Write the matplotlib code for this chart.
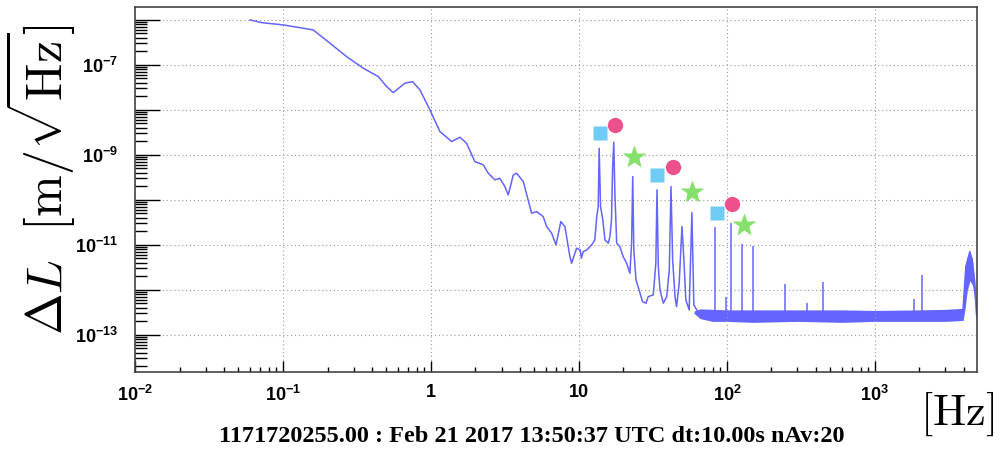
import numpy as np
import matplotlib
matplotlib.use('Agg')
import matplotlib.pyplot as plt
from matplotlib.ticker import FixedLocator, FuncFormatter, LogLocator, NullFormatter

# ---- data ----
# main ASD trace [Hz], [m/sqrt(Hz)]
trace_f = [0.0598, 0.0718, 0.1005, 0.160, 0.208, 0.269, 0.349, 0.441, 0.502, 0.556,
           0.667, 0.751, 0.843, 0.984, 1.15, 1.38, 1.57, 1.74, 1.98, 2.26,
           2.44, 2.71, 2.92, 3.16, 3.33, 3.60, 3.79, 4.21, 4.79, 5.18,
           5.74, 6.05, 6.54, 7.0, 7.55, 8.04, 8.69, 8.93, 9.64, 10.2,
           10.4, 10.7, 11.3, 12.2, 12.8, 13.2, 13.5, 13.7, 14.0, 14.5,
           15.0, 15.8, 16.2, 16.6, 16.9, 17.2, 17.5, 18.0, 18.9, 19.9,
           21.0, 22.1, 22.7, 23.1, 23.5, 24.3, 25.5, 26.9, 28.4, 29.4,
           31.8, 33.1, 33.7, 34.4, 35.3, 37.2, 39.2, 40.8, 41.9, 43.0,
           44.6, 45.7, 47.6, 49.7, 51.2, 52.8, 55.6, 58.0, 59.8, 63.7,
           100, 1000, 3900, 3954, 4121, 4385, 4559, 4742, 4865]
trace_asd = [1.0e-6, 8.7e-7, 7.74e-7, 6.0e-7, 3.03e-7, 1.53e-7, 8.45e-8, 5.5e-8, 3.3e-8, 2.42e-8,
             3.92e-8, 4.25e-8, 2.78e-8, 1.0e-8, 3.3e-9, 1.98e-9, 2.47e-9, 1.82e-9, 7.1e-10, 6.0e-10,
             3.92e-10, 2.78e-10, 3.03e-10, 1.98e-10, 1.29e-10, 3.6e-10, 3.92e-10, 2.55e-10, 5.06e-11, 5.5e-11,
             4.25e-11, 2.55e-11, 1.82e-11, 1.0e-11, 3.3e-11, 2.55e-11, 5.5e-12, 3.92e-12, 8.45e-12, 7.74e-12,
             5.06e-12, 7.1e-12, 7.74e-12, 1.0e-11, 1.29e-11, 4.25e-11, 7.1e-11, 1.41e-9, 7.1e-11, 3.6e-11,
             1.29e-11, 1.09e-11, 1.53e-11, 3.6e-11, 5.5e-10, 1.91e-9, 1.41e-10, 1.09e-11, 9.2e-12, 5.5e-12,
             3.92e-12, 2.35e-12, 1.09e-11, 3.3e-10, 7.74e-12, 1.67e-12, 1.0e-12, 5.5e-13, 5.06e-13, 7.1e-13,
             7.74e-13, 3.92e-12, 1.67e-10, 3.3e-12, 1.0e-12, 5.06e-13, 7.1e-13, 2.78e-12, 1.98e-10, 4.64e-12,
             7.1e-13, 4.25e-13, 1.41e-12, 2.55e-11, 4.64e-12, 6.0e-13, 3.6e-13, 5.2e-11, 4.64e-13, 3.24e-13,
             2.8e-13, 2.8e-13, 2.9e-13, 4.25e-13, 3.3e-12, 7.1e-12, 4.19e-12, 1.0e-12, 2.78e-13]

# noise band of the floor (lower / upper envelope)
band_f = [60, 66, 80, 100, 150, 300, 600, 1000, 2000, 3000,
          3950, 4055, 4217, 4385, 4559, 4742, 4865]
band_lo = [3.0e-13, 2.3e-13, 2.0e-13, 2.0e-13, 1.9e-13, 2.0e-13, 1.9e-13, 2.0e-13, 2.0e-13, 2.0e-13,
           2.1e-13, 3.6e-13, 1.0e-12, 1.6e-12, 1.3e-12, 6.0e-13, 1.9e-13]
band_hi = [3.4e-13, 3.8e-13, 3.7e-13, 3.6e-13, 3.6e-13, 3.6e-13, 3.6e-13, 3.5e-13, 3.6e-13, 3.7e-13,
           3.9e-13, 3.3e-12, 5.5e-12, 7.1e-12, 5.0e-12, 1.6e-12, 4.6e-13]

# narrow lines above the floor
spike_f = [83.0, 98.4, 106.4, 126, 149, 248, 346, 448, 1845, 2070]
spike_top = [2.55e-11, 7.1e-13, 3.13e-11, 1.05e-11, 9.5e-12, 1.34e-12, 5.06e-13, 1.53e-12, 6.2e-13, 2.15e-12]
floor_level = 2.8e-13

# harmonic markers
square_f = [13.86, 33.9, 85.1]
square_asd = [3.13e-9, 3.65e-10, 5.2e-11]
circle_f = [17.6, 43.3, 108]
circle_asd = [4.57e-9, 5.5e-10, 8.3e-11]
star_f = [23.5, 58.5, 129.5]
star_asd = [8.9e-10, 1.53e-10, 2.74e-11]

xtick_vals = [1e-2, 1e-1, 1, 10, 1e2, 1e3]
xtick_labels = [r'$10^{-2}$', r'$10^{-1}$', '1', '10', r'$10^{2}$', r'$10^{3}$']
ytick_labelled = [-7, -9, -11, -13]

footer = '1171720255.00 : Feb 21 2017 13:50:37 UTC dt:10.00s nAv:20'

# ---- style ----
plt.rcParams['font.family'] = ['Liberation Sans', 'DejaVu Sans']
plt.rcParams['font.weight'] = 'bold'
plt.rcParams['mathtext.fontset'] = 'custom'
plt.rcParams['mathtext.rm'] = 'Liberation Sans:bold'
plt.rcParams['mathtext.it'] = 'Liberation Sans:bold'
plt.rcParams['mathtext.bf'] = 'Liberation Sans:bold'

line_col = '#6464ff'

fig = plt.figure(figsize=(10, 4.57), dpi=100)
ax = fig.add_axes([0.135, 0.186, 0.842, 0.799])

ax.fill_between(band_f, band_lo, band_hi, color=line_col, lw=0)
ax.plot(trace_f, trace_asd, color=line_col, lw=1.1)
ax.vlines(spike_f, floor_level, spike_top, color=line_col, lw=1.1)

ax.plot(square_f, square_asd, 's', color='#6fcdf5', ms=10, mec='none')
ax.plot(circle_f, circle_asd, 'o', color='#ee4f8d', ms=11, mec='none')
ax.plot(star_f, star_asd, '*', color='#86e06c', ms=18, mec='none')

ax.set_xscale('log')
ax.set_yscale('log')
ax.set_xlim(1e-2, 4900)
ax.set_ylim(1.5e-14, 1.95e-6)

ax.xaxis.set_major_locator(FixedLocator(xtick_vals))
ax.set_xticklabels(xtick_labels)
ax.xaxis.set_minor_locator(LogLocator(base=10, subs=np.arange(2, 10), numticks=20))
ax.xaxis.set_minor_formatter(NullFormatter())

ax.yaxis.set_major_locator(LogLocator(base=10, numticks=20))
ax.yaxis.set_major_formatter(FuncFormatter(
    lambda v, p: r'$10^{%d}$' % round(np.log10(v)) if round(np.log10(v)) in ytick_labelled else ''))
ax.yaxis.set_minor_locator(LogLocator(base=10, subs=np.arange(2, 10), numticks=20))
ax.yaxis.set_minor_formatter(NullFormatter())

ax.tick_params(axis='both', which='both', direction='in', top=False, right=False, labelsize=13)
ax.tick_params(axis='x', which='major', length=8, width=1, pad=9)
ax.tick_params(axis='x', which='minor', length=3.5, width=1)
ax.tick_params(axis='y', which='major', length=18, width=1, pad=12)
ax.tick_params(axis='y', which='minor', length=8.5, width=1)

ax.grid(True, which='major', color='#999999', ls=(0, (1, 2.5)), lw=0.8)
for s in ax.spines.values():
    s.set_color('#444444')
    s.set_linewidth(1.2)

fig.text(0.04, 0.606, r'$\Delta L\ \ [\mathrm{m}/\sqrt{\mathrm{Hz}}]$', rotation=90,
         fontsize=36, math_fontfamily='cm', ha='center', va='center')
fig.text(0.957, 0.094, r'$[\mathrm{Hz}]$', fontsize=32, math_fontfamily='cm',
         ha='center', va='center')
fig.text(0.532, 0.044, footer, family='Liberation Serif', fontweight='bold',
         fontsize=17.5, ha='center', va='center')

fig.savefig('out.png', dpi=100)
